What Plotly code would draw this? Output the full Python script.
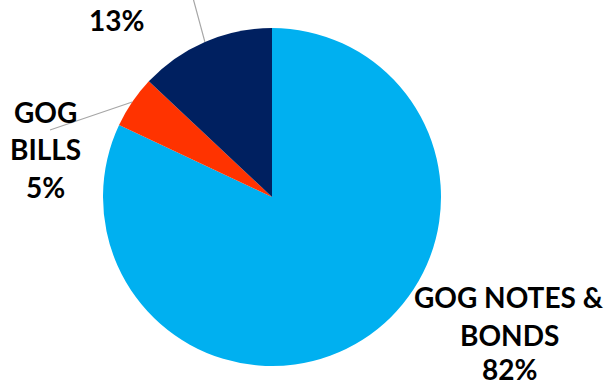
import math
import plotly.graph_objects as go

categories = ["GOG NOTES & BONDS", "GOG BILLS", "OTHERS"]
values = [82, 5, 13]
colors = ["#00B0F0", "#FF3300", "#002060"]

W, H = 606, 386
cx, cy, R = 272, 197, 169

def px(x):
    return x / W

def py(y):
    return 1 - y / H

fig = go.Figure(go.Pie(
    labels=categories, values=values, sort=False, direction="clockwise",
    rotation=0, textinfo="none", hoverinfo="label+percent",
    marker=dict(colors=colors, line=dict(width=0)),
    domain=dict(x=[px(cx - R), px(cx + R)], y=[py(cy + R), py(cy - R)]),
    showlegend=False,
))

# mid angles from the data (degrees clockwise from 12 o'clock)
total = sum(values)
mids = []
acc = 0
for v in values:
    mids.append((acc + v / 2) / total * 360)
    acc += v

def edge(i, r=R):
    a = math.radians(mids[i])
    return cx + r * math.sin(a), cy - r * math.cos(a)

font = dict(family="Lato, 'Open Sans', sans-serif", size=28, color="#000000")
shapes = []
annotations = []

def add_lines(lines, x, ys):
    for t, y in zip(lines, ys):
        annotations.append(dict(text="<b>%s</b>" % t, x=px(x), y=py(y), xref="paper", yref="paper",
                                showarrow=False, font=font, xanchor="center", yanchor="middle"))

# GOG NOTES & BONDS
add_lines(["GOG NOTES &", "BONDS", "%d%%" % values[0]], 509, [297, 335, 369])
# GOG BILLS
add_lines(["GOG", "BILLS", "%d%%" % values[1]], 45, [112, 149, 187])
# OTHERS (name cut off at top)
add_lines(["%d%%" % values[2]], 116, [20])

# leader lines
x0, y0 = edge(1)
shapes.append(dict(type="line", xref="paper", yref="paper", x0=px(x0), y0=py(y0),
                   x1=px(50), y1=py(130), line=dict(color="#A6A6A6", width=1.2)))
x0, y0 = edge(2)
shapes.append(dict(type="line", xref="paper", yref="paper", x0=px(x0), y0=py(y0),
                   x1=px(193), y1=py(-2), line=dict(color="#A6A6A6", width=1.2)))

fig.update_layout(width=W, height=H, margin=dict(l=0, r=0, t=0, b=0),
                  paper_bgcolor="white", plot_bgcolor="white",
                  shapes=shapes, annotations=annotations)
fig.write_html("out.html")
